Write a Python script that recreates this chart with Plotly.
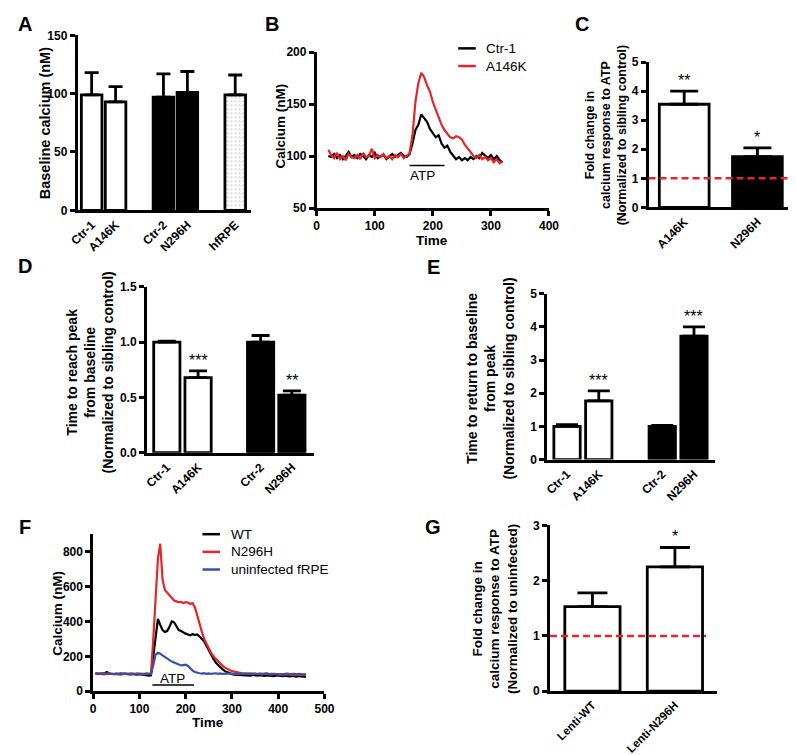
import plotly.graph_objects as go

W, H = 796, 755
FONT = "Liberation Sans, Arial, Helvetica, sans-serif"
RED = "#e3262b"
BLUE = "#3b4fa3"

# ---------------- DATA ----------------
a_labels = ["Ctr-1", "A146K", "Ctr-2", "N296H", "hfRPE"]
a_means = [99, 93, 97, 101, 99]
a_upper = [118, 106, 117, 119, 116]

b_time = list(range(20, 321, 5))
b_ctr1 = [100, 99, 102, 98, 101, 97, 100, 104, 99, 101,
          98, 102, 100, 97, 101, 99, 103, 98, 100, 101,
          97, 100, 102, 99, 101, 103, 100, 99, 102, 112,
          125, 130, 140, 137, 133, 126, 122, 118, 120, 112,
          108, 110, 104, 100, 97, 99, 96, 98, 96, 99,
          97, 100, 98, 103, 100, 98, 101, 97, 100, 96, 94]
b_a146k = [106, 101, 98, 103, 97, 100, 96, 102, 99, 98,
           101, 97, 103, 99, 100, 107, 98, 101, 99, 102,
           98, 100, 97, 101, 99, 102, 98, 100, 103, 120,
           152, 170, 180, 176, 168, 162, 152, 145, 138, 130,
           125, 121, 118, 117, 119, 118, 116, 111, 107, 103,
           100, 98, 101, 97, 99, 96, 98, 94, 97, 93, 95]
b_atp = [160, 220]

c_labels = ["A146K", "N296H"]
c_means = [3.55, 1.75]
c_upper = [4.0, 2.05]
c_stars = ["**", "*"]

d_labels = ["Ctr-1", "A146K", "Ctr-2", "N296H"]
d_means = [1.0, 0.68, 1.0, 0.52]
d_upper = [1.01, 0.74, 1.06, 0.56]
d_stars = ["", "***", "", "**"]

e_labels = ["Ctr-1", "A146K", "Ctr-2", "N296H"]
e_means = [1.0, 1.77, 1.0, 3.72]
e_upper = [1.05, 2.07, 1.03, 4.0]
e_stars = ["", "***", "", "***"]

f_time = list(range(5, 461, 5))
f_wt = [102, 99, 101, 98, 104, 110, 100, 99, 101, 98, 100, 97, 99, 101, 98, 96, 99, 97, 95, 98, 96, 93, 92, 90, 92,
        200, 330, 415, 380, 350, 340, 345, 370, 400, 395,
        370, 350, 345, 335, 330, 325, 320, 328, 322, 325,
        315, 300, 285, 260, 230, 205, 185, 165, 150, 135,
        125, 115, 108, 102, 98, 95, 94, 93, 92, 93, 91,
        92, 90, 93, 91, 89, 92, 90, 88, 91, 89, 90, 87, 89, 91, 88, 86, 89, 87, 85, 88, 86, 84, 87, 85, 83, 82]
f_n296h = [105, 100, 98, 103, 101, 99, 104, 100, 97, 102, 100, 103, 99, 101, 98, 102, 100, 99, 103, 101, 98, 100, 102, 99, 100,
           300, 560, 760, 845, 640, 580, 565, 545, 535, 520,
           515, 510, 512, 505, 510, 508, 500, 505, 480, 430,
           390, 340, 300, 270, 245, 220, 200, 185, 170, 155,
           145, 135, 128, 122, 115, 112, 108, 106, 104, 103, 101,
           102, 100, 99, 101, 98, 100, 97, 99, 101, 98, 96, 99, 97, 98, 95, 97, 96, 94, 97, 95, 93, 96, 94, 92, 95, 93]
f_frpe = [100, 98, 101, 99, 97, 100, 102, 99, 98, 100, 97, 99, 101, 98, 100, 97, 99, 98, 100, 96, 99, 97, 98, 100, 99,
          150, 210, 220, 215, 205, 195, 185, 178, 170, 165,
          158, 152, 148, 150, 152, 145, 130, 118, 110, 105,
          103, 101, 104, 100, 102, 99, 101, 103, 100, 102,
          99, 101, 100, 102, 99, 101, 100, 98, 101, 99, 100,
          102, 99, 101, 100, 98, 101, 99, 100, 102, 98, 100, 99, 101, 98, 100, 97, 99, 101, 98, 100, 99, 97, 100, 98, 99, 97]
f_atp = [128, 218]

g_labels = ["Lenti-WT", "Lenti-N296H"]
g_means = [1.53, 2.25]
g_upper = [1.78, 2.6]
g_stars = ["", "*"]

# ---------------- LAYOUT HELPERS ----------------
def xd(a, b):
    return [a / W, b / W]

def yd(top, bottom):
    return [1 - bottom / H, 1 - top / H]

def px(x, y):
    return x / W, 1 - y / H

TICKFONT = dict(family=FONT, size=12, color="black", weight="bold")

def axis(domain, rng, anchor, tickvals=None, ticktext=None, ticks="outside", angle=0, fmt=None, fsize=12):
    d = dict(domain=domain, range=rng, anchor=anchor, showline=True, linecolor="black",
             linewidth=2.6, ticks=ticks, ticklen=5, tickwidth=2.6, tickcolor="black",
             showgrid=False, zeroline=False, tickfont=dict(TICKFONT, size=fsize), fixedrange=True)
    if tickvals is not None:
        d["tickvals"] = tickvals
        d["tickmode"] = "array"
    if ticktext is not None:
        d["ticktext"] = ticktext
    if angle:
        d["tickangle"] = angle
    if fmt:
        d["tickformat"] = fmt
    return d

fig = go.Figure()
annotations = []
shapes = []

def ann(text, x, y, size, bold=True, angle=0, xanchor="center", yanchor="middle"):
    X, Y = px(x, y)
    annotations.append(dict(text=text, x=X, y=Y, xref="paper", yref="paper", showarrow=False,
                            textangle=angle, xanchor=xanchor, yanchor=yanchor,
                            font=dict(family=FONT, size=size, color="black",
                                      weight="bold" if bold else "normal")))

def bars(n, pos, means, upper, colors, width, capw, patterns=None):
    ax = "" if n == 1 else str(n)
    marker = dict(color=colors, line=dict(color="black", width=2.8))
    if patterns:
        marker["pattern"] = dict(shape=patterns, fgcolor="black", size=4, solidity=0.12)
    fig.add_trace(go.Bar(x=pos, y=means, width=width, marker=marker,
                         error_y=dict(type="data", symmetric=False,
                                      array=[u - m for u, m in zip(upper, means)],
                                      arrayminus=[0] * len(means), color="black",
                                      thickness=2.8, width=capw),
                         xaxis="x" + ax, yaxis="y" + ax, showlegend=False, hoverinfo="skip"))

def stars(n, pos, upper, labels):
    ax = "" if n == 1 else str(n)
    for p, u, s in zip(pos, upper, labels):
        if s:
            annotations.append(dict(text=s, x=p, y=u, xref="x" + ax, yref="y" + ax, showarrow=False,
                                    yanchor="bottom", yshift=0,
                                    font=dict(family=FONT, size=16, color="black")))

layout = {}

# ---------------- PANEL A ----------------
pos_a = [0, 1, 3, 4, 6]
bars(1, pos_a, a_means, a_upper, ["white", "white", "black", "black", "white"], 0.86, 7,
     patterns=["", "", "", "", "."])
layout["xaxis"] = axis(xd(62, 240), [-0.59, 6.67], "y", pos_a, a_labels, ticks="", angle=-45)
layout["yaxis"] = axis(yd(20.7, 199), [0, 150], "x", [0, 50, 100, 150])
ann("Baseline calcium (nM)", 29, 110, 14.5, angle=-90)
ann("A", 8, 9, 20)

# ---------------- PANEL B ----------------
fig.add_trace(go.Scatter(x=b_time, y=b_ctr1, mode="lines", line=dict(color="black", width=2.2),
                         xaxis="x2", yaxis="y2", showlegend=False, hoverinfo="skip"))
fig.add_trace(go.Scatter(x=b_time, y=b_a146k, mode="lines", line=dict(color=RED, width=2.2),
                         xaxis="x2", yaxis="y2", showlegend=False, hoverinfo="skip"))
layout["xaxis2"] = axis(xd(307, 545), [0, 400], "y2", [0, 100, 200, 300, 400])
layout["yaxis2"] = axis(yd(37.7, 196.7), [50, 200], "x2", [50, 100, 150, 200])
shapes.append(dict(type="line", xref="x2", yref="y2", x0=b_atp[0], x1=b_atp[1], y0=91, y1=91,
                   line=dict(color="black", width=1.5)))
annotations.append(dict(text="ATP", x=183, y=81, xref="x2", yref="y2", showarrow=False,
                        font=dict(family=FONT, size=13.5, color="black")))
ann("Calcium (nM)", 270, 113, 13.5, angle=-90)
ann("Time", 425, 230, 13.5)
ann("B", 261, 9, 20)
for yy, col, lab in [(34, "black", "Ctr-1"), (52, RED, "A146K")]:
    X0, Y0 = px(452, yy)
    X1, _ = px(470, yy)
    shapes.append(dict(type="line", xref="paper", yref="paper", x0=X0, x1=X1, y0=Y0, y1=Y0,
                       line=dict(color=col, width=2.5)))
    ann(lab, 478, yy, 13.5, bold=False, xanchor="left")

# ---------------- PANEL C ----------------
pos_c = [0, 1]
bars(3, pos_c, c_means, c_upper, ["white", "black"], 0.68, 14)
stars(3, pos_c, c_upper, c_stars)
layout["xaxis3"] = axis(xd(647, 796), [-0.487, 1.5], "y3", pos_c, c_labels, ticks="", angle=-45)
layout["yaxis3"] = axis(yd(48, 196), [0, 5], "x3", [0, 1, 2, 3, 4, 5])
shapes.append(dict(type="line", xref="x3 domain", yref="y3", x0=0, x1=1, y0=1, y1=1,
                   line=dict(color=RED, width=2.5, dash="7px,4px")))
ann("Fold change in<br>calcium response to ATP<br>(Normalized to sibling control)", 604, 122, 12.5, angle=-90)
ann("C", 579, 9, 20)

# ---------------- PANEL D ----------------
pos_d = [0, 1, 3, 4]
bars(4, pos_d, d_means, d_upper, ["white", "white", "black", "black"], 0.84, 9)
stars(4, pos_d, d_upper, d_stars)
layout["xaxis4"] = axis(xd(133, 304), [-0.64, 4.70], "y4", pos_d, d_labels, ticks="", angle=-45)
layout["yaxis4"] = axis(yd(277, 446), [0, 1.5], "x4", [0, 0.5, 1.0, 1.5], fmt=".1f")
ann("Time to reach peak<br>from baseline<br>(Normalized to sibling control)", 75, 364, 14, angle=-90)
ann("D", 8, 256, 20)

# ---------------- PANEL E ----------------
pos_e = [0, 1, 3, 4]
bars(5, pos_e, e_means, e_upper, ["white", "white", "black", "black"], 0.83, 11)
stars(5, pos_e, e_upper, e_stars)
layout["xaxis5"] = axis(xd(543, 715), [-0.63, 4.66], "y5", pos_e, e_labels, ticks="", angle=-45)
layout["yaxis5"] = axis(yd(284, 453), [0, 5], "x5", [0, 1, 2, 3, 4, 5])
ann("Time to return to baseline<br>from peak<br>(Normalized to sibling control)", 485, 370, 14, angle=-90)
ann("E", 427, 257, 20)

# ---------------- PANEL F ----------------
for series, col in [(f_wt, "black"), (f_n296h, RED), (f_frpe, BLUE)]:
    fig.add_trace(go.Scatter(x=f_time, y=series, mode="lines", line=dict(color=col, width=2.2),
                             xaxis="x6", yaxis="y6", showlegend=False, hoverinfo="skip"))
layout["xaxis6"] = axis(xd(78, 315), [0, 500], "y6", [0, 100, 200, 300, 400, 500])
layout["yaxis6"] = axis(yd(529, 689), [0, 900], "x6", [0, 200, 400, 600, 800])
shapes.append(dict(type="line", xref="x6", yref="y6", x0=f_atp[0], x1=f_atp[1], y0=35, y1=35,
                   line=dict(color="black", width=1.5)))
annotations.append(dict(text="ATP", x=171, y=73, xref="x6", yref="y6", showarrow=False,
                        font=dict(family=FONT, size=13.5, color="black")))
ann("Calcium (nM)", 42, 609, 13.5, angle=-90)
ann("Time", 196, 721, 13.5)
ann("F", 8, 522, 20)
for yy, col, lab in [(529, "black", "WT"), (547, RED, "N296H"), (565, BLUE, "uninfected fRPE")]:
    X0, Y0 = px(190, yy)
    X1, _ = px(208, yy)
    shapes.append(dict(type="line", xref="paper", yref="paper", x0=X0, x1=X1, y0=Y0, y1=Y0,
                       line=dict(color=col, width=2.5)))
    ann(lab, 217, yy, 13.5, bold=False, xanchor="left")

# ---------------- PANEL G ----------------
pos_g = [0, 1]
bars(7, pos_g, g_means, g_upper, ["white", "white"], 0.67, 15)
stars(7, pos_g, g_upper, g_stars)
layout["xaxis7"] = axis(xd(546, 717), [-0.515, 1.509], "y7", pos_g, g_labels, ticks="", angle=-45, fsize=11.5)
layout["yaxis7"] = axis(yd(520, 689), [0, 3], "x7", [0, 1, 2, 3])
shapes.append(dict(type="line", xref="x7 domain", yref="y7", x0=0, x1=0.936, y0=1, y1=1,
                   line=dict(color=RED, width=2.5, dash="7px,4px")))
ann("Fold change in<br>calcium response to ATP<br>(Normalized to uninfected)", 489, 605, 13.5, angle=-90)
ann("G", 426, 522, 20)

fig.update_layout(width=W, height=H, margin=dict(l=0, r=0, t=0, b=0),
                  paper_bgcolor="white", plot_bgcolor="white",
                  annotations=annotations, shapes=shapes, **layout)

fig.write_html("out.html")
